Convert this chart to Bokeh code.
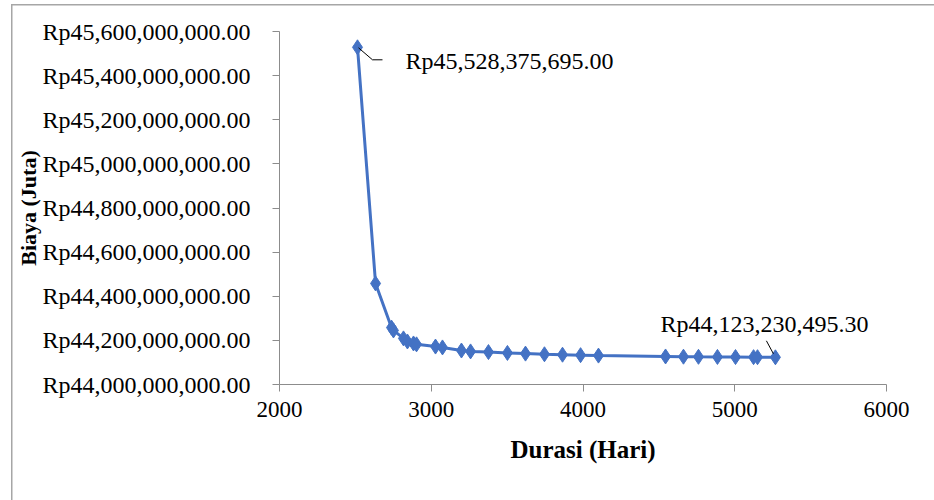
from bokeh.plotting import figure
from bokeh.models import ColumnDataSource, FixedTicker, Label
from bokeh.embed import file_html
from bokeh.resources import INLINE

# Project duration (days) vs. total cost (Rp)
durasi = [2514, 2633, 2738, 2751, 2817, 2843, 2883, 2903, 3028, 3074, 3199, 3259,
          3377, 3502, 3621, 3746, 3865, 3984, 4102, 4544, 4662, 4761, 4886, 5005,
          5124, 5150, 5268]
biaya = [45528375695.00, 44458000000, 44258000000, 44245000000, 44209000000,
         44195000000, 44186000000, 44182000000, 44172000000, 44168000000,
         44154000000, 44150000000, 44147000000, 44143000000, 44140000000,
         44137000000, 44135000000, 44133000000, 44131000000, 44127000000,
         44126000000, 44125500000, 44125000000, 44124500000, 44124000000,
         44123800000, 44123230495.30]

x_ticks = [2000, 3000, 4000, 5000, 6000]
y_ticks = [44.0e9, 44.2e9, 44.4e9, 44.6e9, 44.8e9, 45.0e9, 45.2e9, 45.4e9, 45.6e9]
y_tick_labels = ["Rp44,000,000,000.00", "Rp44,200,000,000.00", "Rp44,400,000,000.00",
                 "Rp44,600,000,000.00", "Rp44,800,000,000.00", "Rp45,000,000,000.00",
                 "Rp45,200,000,000.00", "Rp45,400,000,000.00", "Rp45,600,000,000.00"]

FONT = "Liberation Serif"
BLUE = "#4472C4"
GRAY = "#8c8c8c"
EDGE = "#a6a6a6"

p = figure(width=934, height=500, output_backend="svg", toolbar_location=None,
           x_range=(2000, 6000), y_range=(44.0e9, 45.6e9),
           min_border_left=279, min_border_right=48, min_border_top=31,
           min_border_bottom=116)
p.outline_line_color = None
p.xgrid.visible = False
p.ygrid.visible = False
p.background_fill_color = "white"
# transparent surround so the page-level chart-area border shows through
p.border_fill_color = None
p.styles = {
    "background": (f"linear-gradient({EDGE},{EDGE}) 11px 4px / 1.5px 100% no-repeat, "
                   f"linear-gradient({EDGE},{EDGE}) 11px 4px / 100% 1.5px no-repeat, "
                   "white"),
}

# axes
p.xaxis.ticker = FixedTicker(ticks=x_ticks)
p.yaxis.ticker = FixedTicker(ticks=y_ticks)
p.yaxis.major_label_overrides = {t: lab for t, lab in zip(y_ticks, y_tick_labels)}
for ax in (p.xaxis[0], p.yaxis[0]):
    ax.axis_line_color = GRAY
    ax.major_tick_line_color = GRAY
    ax.minor_tick_line_color = None
    ax.major_tick_in = 0
    ax.major_tick_out = 7
    ax.major_label_text_font = FONT
    ax.major_label_text_color = "black"
    ax.axis_label_text_font = FONT
    ax.axis_label_text_font_style = "bold"
    ax.axis_label_text_color = "black"
p.yaxis.major_label_text_font_size = "24px"
p.yaxis.major_label_standoff = 22
p.xaxis.major_label_text_font_size = "23px"
p.xaxis.major_label_standoff = 10

p.xaxis.axis_label = "Durasi (Hari)"
p.xaxis.axis_label_text_font_size = "25px"
p.xaxis.axis_label_standoff = 16

# vertical title sits over the tick labels
p.yaxis.axis_label = "Biaya (Juta)"
p.yaxis.axis_label_text_font_size = "22px"
p.yaxis.axis_label_standoff = -2

# cost curve
src = ColumnDataSource(dict(x=durasi, y=biaya))
p.line("x", "y", source=src, line_color=BLUE, line_width=3)
p.scatter("x", "y", source=src, marker="diamond", size=15, fill_color=BLUE,
          line_color=BLUE)

# pixel -> data conversions for label offsets
px_x = (6000 - 2000) / 607.0
px_y = (45.6e9 - 44.0e9) / 353.0

def rp(v):
    return "Rp{:,.2f}".format(v)

# label on the first (most expensive) point
x0, y0 = durasi[0], biaya[0]
p.line([x0 + 1 * px_x, x0 + 15 * px_x, x0 + 25 * px_x],
       [y0 - 0.5 * px_y, y0 - 12.5 * px_y, y0 - 12.5 * px_y],
       line_color="black", line_width=1)
p.add_layout(Label(x=x0, y=y0, x_offset=48, y_offset=-14, text=rp(y0),
                   text_font=FONT, text_font_size="24px", text_baseline="middle",
                   text_align="left", text_color="black"))

# label on the last (cheapest) point
x1, y1 = durasi[-1], biaya[-1]
p.line([x1 - 9 * px_x, x1 - 2 * px_x], [y1 + 16.5 * px_y, y1 + 3.5 * px_y],
       line_color="black", line_width=1)
p.add_layout(Label(x=x1, y=y1, x_offset=-115, y_offset=33, text=rp(y1),
                   text_font=FONT, text_font_size="24px", text_baseline="middle",
                   text_align="left", text_color="black"))

open("out.html", "w").write(file_html(p, INLINE))
